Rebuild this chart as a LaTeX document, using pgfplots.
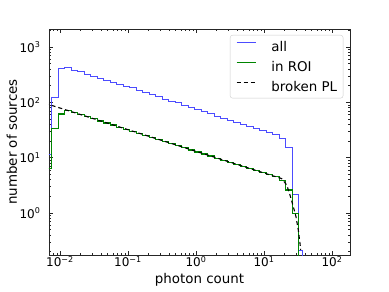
\documentclass[border=0pt]{standalone}
\usepackage{fontspec}
\setmainfont{DejaVu Sans}
\usepackage{pgfplots}
\pgfplotsset{compat=1.18}
\definecolor{mplblue}{rgb}{0.3,0.3,1}
\definecolor{mplgreen}{rgb}{0,0.52,0}
\begin{document}
\begin{tikzpicture}
\useasboundingbox (-49pt,-37pt) rectangle (340pt,255pt);
\begin{axis}[
  scale only axis, width=301pt, height=226pt,
  xmode=log, ymode=log,
  xmin=0.00689, xmax=184, ymin=0.174, ymax=2115,
  axis line style={black!85, line width=0.6pt},
  xtick={0.01,0.1,1,10,100},
  xticklabels={10\textsuperscript{−2},10\textsuperscript{−1},10\textsuperscript{0},10\textsuperscript{1},10\textsuperscript{2}},
  ytick={1,10,100,1000},
  yticklabels={10\textsuperscript{0},10\textsuperscript{1},10\textsuperscript{2},10\textsuperscript{3}},
  minor xtick={0.007,0.008,0.009,0.02,0.03,0.04,0.05,0.06,0.07,0.08,0.09,0.2,0.3,0.4,0.5,0.6,0.7,0.8,0.9,2,3,4,5,6,7,8,9,20,30,40,50,60,70,80,90},
  minor ytick={0.2,0.3,0.4,0.5,0.6,0.7,0.8,0.9,2,3,4,5,6,7,8,9,20,30,40,50,60,70,80,90,200,300,400,500,600,700,800,900,2000},
  major tick length=4pt, minor tick length=2pt,
  tick style={black!85, line width=0.5pt},
  tick label style={font=\fontsize{12}{14}\selectfont},
  xticklabel style={inner sep=1.5pt},
  yticklabel style={xshift=-5pt},
  xlabel={photon count}, ylabel={number of sources},
  label style={font=\fontsize{13.4}{16}\selectfont},
  xlabel style={at={(axis description cs:0.5,-0.125)}, anchor=base},
  ylabel style={at={(axis description cs:-0.107,0.5)}, anchor=base},
  legend cell align=left,
  legend image code/.code={\draw[#1] (3.5pt,3.8pt) -- (22.5pt,3.8pt);},
  legend style={at={(0.9777,0.9735)}, anchor=north east, draw=black!20, rounded corners=2.5pt, fill=white,
    font=\fontsize{13.4}{16}\selectfont, row sep=10pt, column sep=15pt,
    inner xsep=6pt, inner ysep=6.5pt,
    nodes={inner sep=0pt, text height=10pt, text depth=0pt}},
]
\addplot[const plot, mplblue, line width=0.9pt] coordinates {
(0.006077,0.01) (0.006077,11.65) (0.007575,123.3) (0.009441,412) (0.011765,423) (0.014662,384) (0.018272,358) (0.022771,325) (0.028376,299) (0.035363,272) (0.044069,250) (0.054918,230) (0.06844,212) (0.085289,195) (0.10629,184) (0.13245,167) (0.16506,152) (0.2057,140) (0.25628,126.5) (0.31939,113.5) (0.39811,105.7) (0.49611,98.5) (0.6183,89.5) (0.77051,81.4) (0.9603,74.8) (1.1967,67.7) (1.4914,62.3) (1.8585,56.6) (2.3161,51.5) (2.8864,47.4) (3.597,42.9) (4.4822,40.1) (5.586,36.7) (6.9616,33.3) (8.6762,30.7) (10.812,28.7) (13.474,26.5) (16.793,22.4) (20.924,15.4) (26.081,2.2) (32.5,0.214) (36.22,0.214) (36.22,0.01)
};
\addlegendentry{all}
\addplot[const plot, mplgreen, line width=1.2pt] coordinates {
(0.006077,0.01) (0.006077,6.43) (0.007575,33.95) (0.009441,61.5) (0.011765,70.9) (0.014662,65.1) (0.018272,59.7) (0.022771,54.8) (0.028376,50.3) (0.035363,46.1) (0.044069,42.3) (0.054918,38.8) (0.06844,35.6) (0.085289,32.7) (0.10629,30.0) (0.13245,27.5) (0.16506,25.2) (0.2057,23.2) (0.25628,21.3) (0.31939,19.5) (0.39811,17.9) (0.49611,16.4) (0.6183,15.1) (0.77051,13.8) (0.9603,12.7) (1.1967,11.6) (1.4914,10.7) (1.8585,9.79) (2.3161,8.98) (2.8864,8.24) (3.597,7.56) (4.4822,6.93) (5.586,6.36) (6.9616,5.84) (8.6762,5.35) (10.812,4.91) (13.474,4.57) (16.793,3.84) (20.924,2.60) (26.081,0.99) (32.5,0.99) (32.5,0.01)
};
\addlegendentry{in ROI}
\addplot[black, line width=1.1pt, dash pattern=on 4pt off 3pt] coordinates {
(0.006016,96.3) (18.21,4.18) (21.57,3.21) (24.12,2.115) (26.97,1.30) (29.55,0.857) (31.94,0.493) (33.83,0.2834) (34.65,0.2145)
};
\addlegendentry{broken PL}
\end{axis}
\end{tikzpicture}
\end{document}
